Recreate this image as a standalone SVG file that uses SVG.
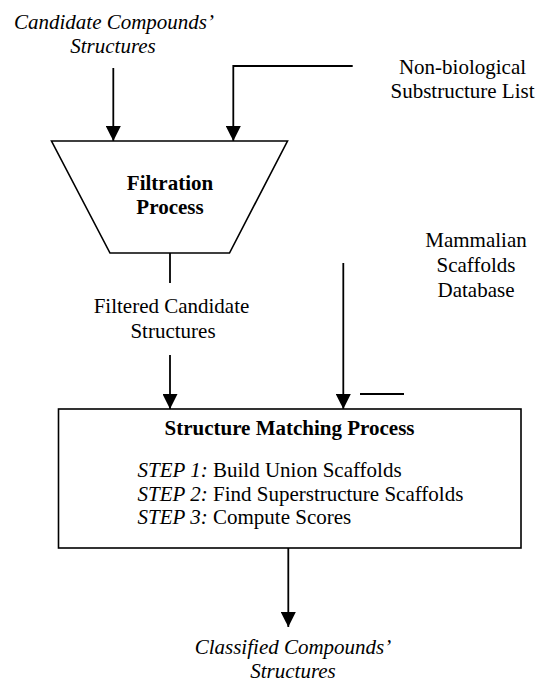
<svg xmlns="http://www.w3.org/2000/svg" width="537" height="683" viewBox="0 0 537 683">
  <style>
    text { font-family: "Liberation Serif", "Times New Roman", serif; font-size: 21px; fill: #000; }
    .c { text-anchor: middle; }
    .i { font-style: italic; }
    .b { font-weight: bold; }
    .shape { fill: #fff; stroke: #000; stroke-width: 1.6; }
    .conn { fill: none; stroke: #000; stroke-width: 1.8; }
  </style>
  <defs>
    <marker id="arrow" markerUnits="userSpaceOnUse" markerWidth="15" markerHeight="15" refX="15" refY="7.5" orient="auto">
      <path d="M0,0 L15,7.5 L0,15 Z" fill="#000"/>
    </marker>
  </defs>
  <rect width="537" height="683" fill="#fff"/>

  <g id="candidate-input">
    <text class="c i" x="114" y="29">Candidate Compounds’</text>
    <text class="c i" x="113" y="53">Structures</text>
  </g>

  <g id="nonbio-list">
    <text class="c" x="462.5" y="74">Non-biological</text>
    <text class="c" x="462.5" y="98">Substructure List</text>
  </g>

  <g id="filtration">
    <polygon class="shape" points="51.5,141 287.5,141 229.5,253 110,253"/>
    <text class="c b" x="170" y="190">Filtration</text>
    <text class="c b" x="170" y="214">Process</text>
  </g>

  <g id="mammalian-db">
    <text class="c" x="476" y="247">Mammalian</text>
    <text class="c" x="476" y="272">Scaffolds</text>
    <text class="c" x="476" y="297">Database</text>
  </g>

  <g id="filtered-label">
    <text class="c" x="171.5" y="313">Filtered Candidate</text>
    <text class="c" x="173" y="338">Structures</text>
  </g>

  <g id="structure-matching">
    <rect class="shape" x="58.5" y="409" width="462.5" height="139" stroke-width="2"/>
    <text class="c b" x="289.5" y="435">Structure Matching Process</text>
    <text x="137.5" y="477"><tspan class="i">STEP 1:</tspan> Build Union Scaffolds</text>
    <text x="137.5" y="500.5"><tspan class="i">STEP 2:</tspan> Find Superstructure Scaffolds</text>
    <text x="137.5" y="524"><tspan class="i">STEP 3:</tspan> Compute Scores</text>
  </g>

  <g id="classified-output">
    <text class="c i" x="293" y="654">Classified Compounds’</text>
    <text class="c i" x="293" y="678">Structures</text>
  </g>

  <g id="connectors">
    <path class="conn" d="M113.3,68 L113.3,141" marker-end="url(#arrow)"/>
    <path class="conn" d="M352.7,66 L233.3,66 L233.3,141" marker-end="url(#arrow)"/>
    <path class="conn" d="M170,253 L170,283"/>
    <path class="conn" d="M170,355 L170,409" marker-end="url(#arrow)"/>
    <path class="conn" d="M343.3,263 L343.3,409" marker-end="url(#arrow)"/>
    <path class="conn" d="M360,394 L404,394"/>
    <path class="conn" d="M288.3,548 L288.3,627" marker-end="url(#arrow)"/>
  </g>
</svg>
